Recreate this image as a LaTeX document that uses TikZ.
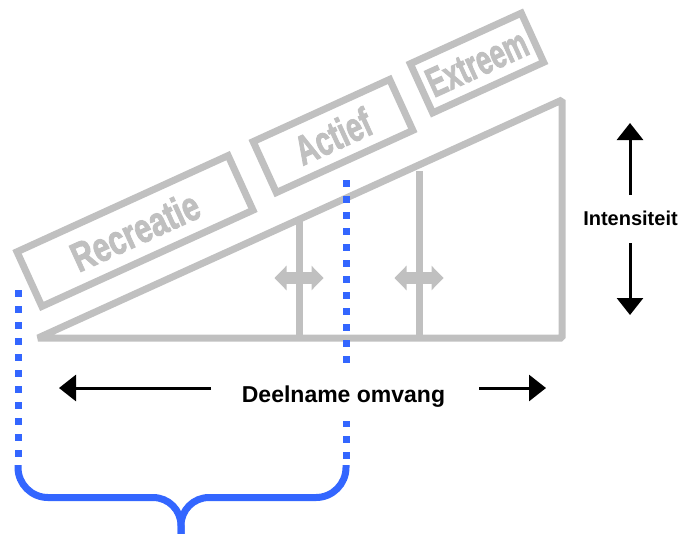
\documentclass[tikz,border=0pt]{standalone}
\usepackage{fontspec}
\setmainfont{Liberation Sans}
\newfontfamily\vakfont[FakeBold=2.5]{Liberation Sans Bold}
\usetikzlibrary{arrows.meta}
\definecolor{grijs}{RGB}{192,192,192}
\definecolor{blauw}{RGB}{51,102,255}
\begin{document}
\begin{tikzpicture}[x=1pt,y=-1pt,>={Triangle[length=17pt,width=26pt]},
        vak/.style={draw=grijs,line width=7pt,rotate=24.5,inner sep=0pt,text=grijs,
            font=\vakfont\fontsize{41}{41}\selectfont},
        kader/.style={draw=grijs,line width=7pt,line join=bevel},
        stippel/.style={draw=blauw,line width=7pt,dash pattern=on 7pt off 9pt},
        accolade/.style={draw=blauw,line width=7pt},
        pijl/.style={->,line width=3pt},
        tekst/.style={font=\bfseries\fontsize{23}{23}\selectfont,anchor=base}]
                \useasboundingbox (0,0) rectangle (682,533);
                % driehoek
                \coordinate (O) at (38,338);
                \coordinate (A) at (562,338);
                \coordinate (B) at (562,100);
                \draw[kader] (O)--(A)--(B)--cycle;
                \draw[kader] (299,338)--(299,219.5);
                \draw[kader] (419,338)--(419,171);
                \foreach \x in {299,419}
                    \fill[grijs] (\x-24.5,278)--(\x-12.5,265.7)--(\x-12.5,272.2)--(\x+12.5,272.2)
                        --(\x+12.5,265.7)--(\x+24.5,278)--(\x+12.5,290.3)--(\x+12.5,283.8)
                        --(\x-12.5,283.8)--(\x-12.5,290.3)--cycle;
                % vakken
                \node[vak,minimum width=232,minimum height=60] (recreatie) at (135,231) {\raisebox{-4pt}{\scalebox{.74}[1]{Recreatie}}\hspace{30pt}};
                \node[vak,minimum width=150,minimum height=56] (actief) at (333,136) {\raisebox{-2pt}{\scalebox{.70}[1]{Actief}}\hspace{10pt}};
                \node[vak,minimum width=122,minimum height=54] (extreem) at (477,63) {\scalebox{.66}[1]{Extreem}};
                % blauwe lijnen en accolade
                \coordinate (stipL) at (18,290);
                \coordinate (stipR) at (346,180);
                \coordinate (accL) at (18,465);
                \coordinate (accR) at (346,465);
                \coordinate (punt) at (181,540);
                \draw[stippel] (stipL)--(18,462);
                \draw[stippel] (stipR)--(346,462);
                \draw[accolade] (accL)--(18,467.5) .. controls (18,484) and (31.4,497.5) .. (48,497.5)
                    --(153,497.5) .. controls (168.5,497.5) and (181,510) .. (181,525.5)--(punt);
                \draw[accolade] (punt)--(181,525.5) .. controls (181,510) and (193.5,497.5) .. (209,497.5)
                    --(316,497.5) .. controls (332.6,497.5) and (346,484) .. (346,467.5)--(accR);
                % pijlen
                \node[tekst,fill=white,inner xsep=2pt,inner ysep=14pt] (deelname) at (343.5,402) {Deelname omvang};
                \coordinate (deelL) at (211,388);
                \coordinate (deelLtip) at (59,388);
                \coordinate (deelR) at (479,388);
                \coordinate (deelRtip) at (546,388);
                \draw[pijl] (deelL)--(deelLtip);
                \draw[pijl] (deelR)--(deelRtip);
                \node[tekst,font=\bfseries\fontsize{20}{20}\selectfont] (intensiteit) at (630.5,225) {Intensiteit};
                \coordinate (intO) at (630,195);
                \coordinate (intOtip) at (630,123);
                \coordinate (intN) at (630,243);
                \coordinate (intNtip) at (630,315);
                \draw[pijl] (intO)--(intOtip);
                \draw[pijl] (intN)--(intNtip);
\end{tikzpicture}
\end{document}
